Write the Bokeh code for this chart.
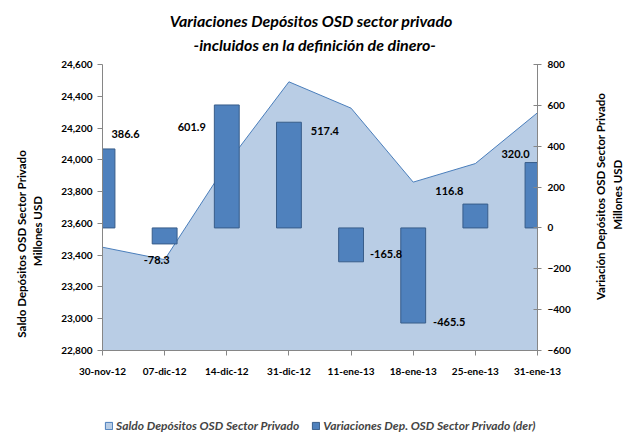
import math
from bokeh.plotting import figure
from bokeh.layouts import column
from bokeh.models import (Range1d, LinearAxis, FixedTicker, NumeralTickFormatter,
                          ColumnDataSource, Legend, LegendItem, Label)
from bokeh.embed import file_html
from bokeh.resources import INLINE

# ---- data ----
fechas = ["30-nov-12", "07-dic-12", "14-dic-12", "31-dic-12",
          "11-ene-13", "18-ene-13", "25-ene-13", "31-ene-13"]
saldo = [23450.0, 23371.7, 23973.6, 24491.0, 24325.2, 23859.7, 23976.5, 24296.5]
variaciones = [386.6, -78.3, 601.9, 517.4, -165.8, -465.5, 116.8, 320.0]
ticks_izq = [22800, 23000, 23200, 23400, 23600, 23800, 24000, 24200, 24400, 24600]
ticks_der = [-600, -400, -200, 0, 200, 400, 600, 800]
titulo = ["Variaciones  Depósitos  OSD sector  privado",
          "-incluidos en la definición  de dinero-"]
eje_izq = ["Millones USD", "Saldo Depósitos OSD  Sector  Privado"]   # inner line first
eje_der = ["Variación  Depósitos OSD  Sector  Privado", "Millones  USD"]  # inner line first
serie_area = "Saldo Depósitos OSD Sector Privado"
serie_barras = "Variaciones Dep. OSD Sector Privado (der)"

# label placement (pixel offsets from bar end)
lab_dx = [23, -8, -35, 36, 35, 36, -26, -22]
lab_dy = [-15, 16, 22, 9, -8, -1, -13, -9]
# anchor of each axis-title line (top end on the left axis, bottom end on the right axis)
izq_title_anchor = [23772, 24097]
izq_title_standoff = [21, 0]
der_title_anchor = [-353, -9]
der_title_standoff = [27, 1]

FONT = "Lato"
AREA_FILL = "#B9CDE5"
AREA_LINE = "#4A7EBB"
BAR_FILL = "#4F81BD"
BAR_LINE = "#385D8A"
AXIS_COL = "#868686"
W = 633
H_TITLE, H_MAIN, H_LEG = 56, 359, 20
FRAME_LEFT = 102

idx = list(range(len(fechas)))

# ---------------- title strip ----------------
pt = figure(width=W, height=H_TITLE, output_backend="svg", toolbar_location=None,
            x_range=Range1d(0, 1), y_range=Range1d(0, 1),
            x_axis_type=None, y_axis_type=None, min_border=0)
pt.outline_line_color = None
for txt, yy in zip(titulo, [36, 12]):
    pt.add_layout(Label(x=316 - FRAME_LEFT, y=yy, x_units="screen", y_units="screen", text=txt,
                        text_align="center", text_baseline="middle", text_font=FONT,
                        text_font_style="bold italic", text_font_size="16px",
                        text_color="black"))

# ---------------- main chart ----------------
p = figure(width=W, height=H_MAIN, output_backend="svg", toolbar_location=None,
           x_range=Range1d(0, len(fechas) - 1),
           y_range=Range1d(ticks_izq[0], ticks_izq[-1]),
           min_border_left=FRAME_LEFT, min_border_right=90, min_border_top=8,
           min_border_bottom=65, title=None)
p.extra_y_ranges = {"der": Range1d(ticks_der[0], ticks_der[-1])}
p.outline_line_color = None
p.xgrid.visible = False
p.ygrid.visible = False

# area (left axis)
ybase = p.y_range.start
area_x = idx + [idx[-1], idx[0]]
area_y = saldo + [ybase, ybase]
p.patch(area_x, area_y, fill_color=AREA_FILL, line_color=AREA_LINE, line_width=1)

# bars (right axis)
src = ColumnDataSource(dict(x=idx, v=variaciones,
                            txt=[f"{v:.1f}" for v in variaciones],
                            dx=lab_dx, dy=lab_dy))
p.vbar(x="x", top="v", bottom=0, width=0.4, source=src, y_range_name="der",
       fill_color=BAR_FILL, line_color=BAR_LINE, line_width=1)
p.text(x="x", y="v", text="txt", x_offset="dx", y_offset="dy", source=src,
       y_range_name="der", text_align="center", text_baseline="middle",
       text_font={"value": FONT}, text_font_style="bold", text_font_size="11px",
       text_color="black")

def style_axis(ax):
    ax.axis_line_color = AXIS_COL
    ax.major_tick_line_color = AXIS_COL
    ax.minor_tick_line_color = None
    ax.major_label_text_font = FONT
    ax.major_label_text_font_style = "bold"
    ax.major_label_text_font_size = "10px"
    ax.major_label_text_color = "black"

xa = p.xaxis[0]
xa.ticker = FixedTicker(ticks=idx)
xa.major_label_overrides = {i: f for i, f in zip(idx, fechas)}
style_axis(xa)
xa.major_tick_in = 0
xa.major_tick_out = 5
xa.major_label_standoff = 9

ya = p.yaxis[0]
ya.ticker = FixedTicker(ticks=ticks_izq)
ya.formatter = NumeralTickFormatter(format="0,0")
style_axis(ya)
ya.major_tick_in = 0
ya.major_tick_out = 5
ya.major_label_standoff = 5

yr = LinearAxis(y_range_name="der", ticker=FixedTicker(ticks=ticks_der))
style_axis(yr)
yr.major_tick_in = 4
yr.major_tick_out = 4
yr.major_label_standoff = 6
p.add_layout(yr, "right")

# axis titles: tick-less axes whose single label reads bottom-to-top
def title_axis(side, range_name, txt, anchor, so):
    kw = {"y_range_name": range_name} if range_name else {}
    t_ax = LinearAxis(ticker=FixedTicker(ticks=[anchor]), **kw)
    style_axis(t_ax)
    t_ax.axis_line_color = None
    t_ax.major_tick_line_color = None
    t_ax.major_tick_in = 0
    t_ax.major_tick_out = 0
    t_ax.major_label_standoff = so
    t_ax.major_label_orientation = math.pi / 2
    t_ax.major_label_text_font_size = "11.5px"
    t_ax.major_label_overrides = {anchor: txt}
    p.add_layout(t_ax, side)

for txt, a, so in zip(eje_izq, izq_title_anchor, izq_title_standoff):
    title_axis("left", None, txt, a, so)
for txt, a, so in zip(eje_der, der_title_anchor, der_title_standoff):
    title_axis("right", "der", txt, a, so)

# ---------------- legend strip ----------------
pl = figure(width=W, height=H_LEG, output_backend="svg", toolbar_location=None,
            x_range=Range1d(0, 1), y_range=Range1d(0, 1),
            x_axis_type=None, y_axis_type=None, min_border=0)
pl.outline_line_color = None
# legend swatches: same series styles, hidden in this strip
r_area = pl.patch(area_x, area_y, fill_color=AREA_FILL, line_color=AREA_LINE, line_width=1)
r_bar = pl.vbar(x=idx, top=variaciones, width=0.4, fill_color=BAR_FILL,
                line_color=BAR_LINE, line_width=1)
r_area.visible = False
r_bar.visible = False
legend = Legend(items=[LegendItem(label=serie_area, renderers=[r_area]),
                       LegendItem(label=serie_barras, renderers=[r_bar])],
                location=(2, 2), orientation="horizontal",
                glyph_width=9, glyph_height=9, label_standoff=3, spacing=12,
                padding=0, margin=0, border_line_color=None, background_fill_alpha=0,
                inactive_fill_alpha=0,
                label_text_font=FONT, label_text_font_style="bold italic",
                label_text_font_size="12px", label_height=12)
pl.add_layout(legend)

layout = column(pt, p, pl, spacing=0)
open("out.html", "w").write(file_html(layout, INLINE))
